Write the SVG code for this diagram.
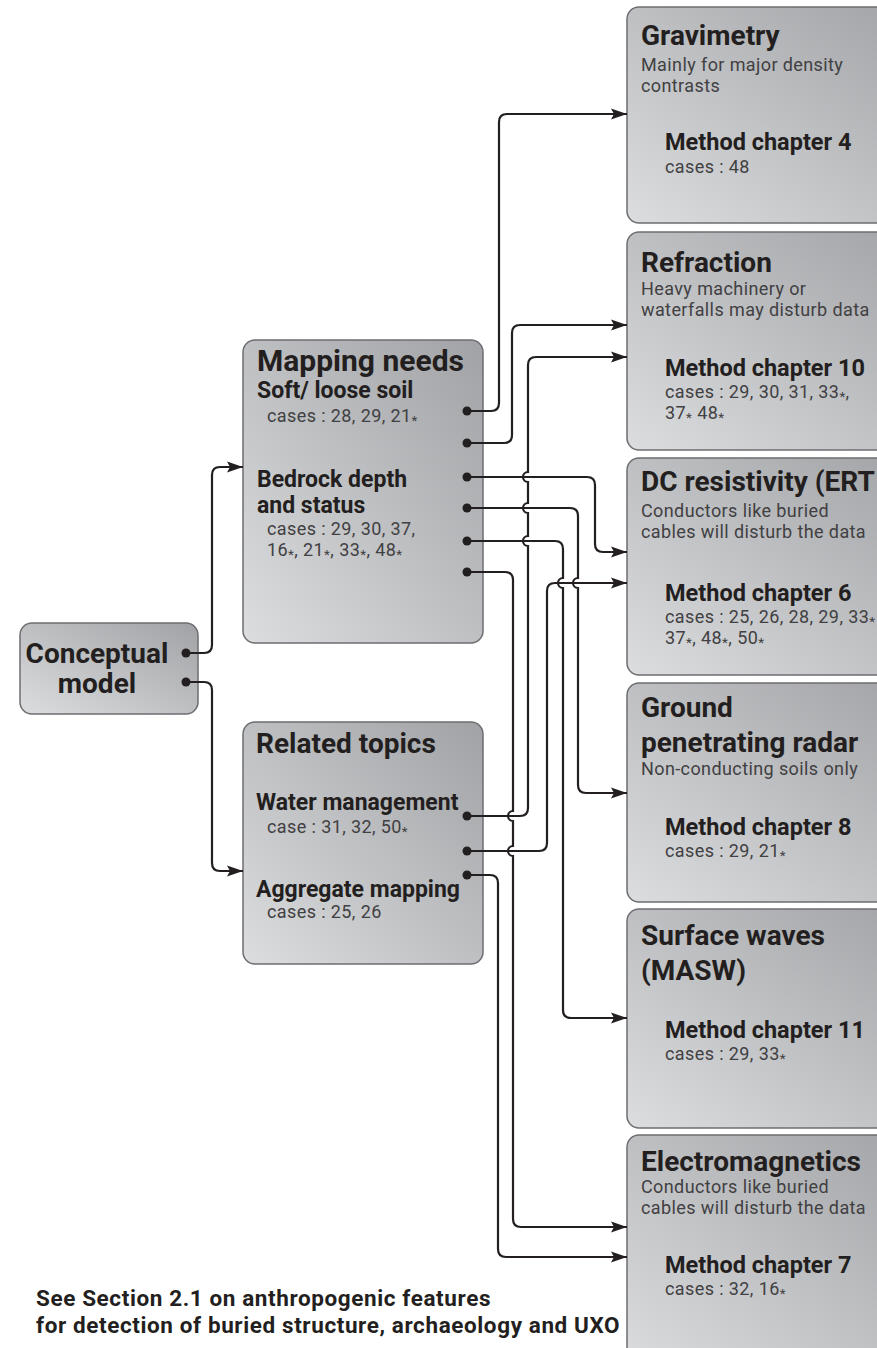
<svg xmlns="http://www.w3.org/2000/svg" width="877" height="1348" viewBox="0 0 877 1348">
<style>
.box{stroke:#6d6e71;stroke-width:1.5;fill:url(#g)}
.t{font-family:Roboto,"Liberation Sans",sans-serif;font-weight:bold;fill:#231f20}
.h1{font-size:28px}
.h2{font-size:23px}
.mc{font-size:23.5px}
.r{font-family:Roboto,"Liberation Sans",sans-serif;fill:#414042;font-size:18px;letter-spacing:0.4px}
.s{font-size:13.5px;baseline-shift:-3px}
.nt{font-size:22.5px;letter-spacing:0.6px}
.c{fill:none;stroke:#231f20;stroke-width:2.2}
.a{marker-end:url(#arr)}
.dot{fill:#231f20}
</style>
<defs>
<linearGradient id="g" x1="0" y1="1" x2="1" y2="0">
<stop offset="0" stop-color="#dcdddf"/>
<stop offset="1" stop-color="#a0a2a5"/>
</linearGradient>
<marker id="arr" markerUnits="userSpaceOnUse" markerWidth="18" markerHeight="12" refX="16" refY="6" orient="auto">
<path d="M0,0.5 L16,6 L0,11.5 L3,6 z" fill="#231f20"/>
</marker>
</defs>
<rect width="877" height="1348" fill="#ffffff"/>

<g id="conceptual">
<rect class="box" x="20" y="623" width="178" height="91" rx="12"/>
<text class="t h1" x="97" y="663" text-anchor="middle">Conceptual</text>
<text class="t h1" x="97" y="693" text-anchor="middle">model</text>
</g>

<g id="mapping">
<rect class="box" x="243" y="340" width="240" height="303" rx="12"/>
<text class="t" style="font-size:30px" x="257" y="371">Mapping needs</text>
<text class="t h2" x="257" y="398">Soft/ loose soil</text>
<text class="r" x="267" y="422">cases : 28, 29, 21<tspan class="s">*</tspan></text>
<text class="t h2" x="257" y="487">Bedrock depth</text>
<text class="t h2" x="257" y="513">and status</text>
<text class="r" x="267" y="535">cases : 29, 30, 37,</text>
<text class="r" x="267" y="556">16<tspan class="s">*</tspan>, 21<tspan class="s">*</tspan>, 33<tspan class="s">*</tspan>, 48<tspan class="s">*</tspan></text>
</g>

<g id="related">
<rect class="box" x="243" y="722" width="240" height="242" rx="12"/>
<text class="t h1" x="256" y="753">Related topics</text>
<text class="t h2" x="256" y="810">Water management</text>
<text class="r" x="267" y="833">case : 31, 32, 50<tspan class="s">*</tspan></text>
<text class="t h2" x="256" y="897">Aggregate mapping</text>
<text class="r" x="267" y="918">cases : 25, 26</text>
</g>

<g id="gravimetry">
<rect class="box" x="627" y="7" width="300" height="216" rx="12"/>
<text class="t h1" x="641" y="45">Gravimetry</text>
<text class="r" x="641" y="71">Mainly for major density</text>
<text class="r" x="641" y="92">contrasts</text>
<text class="t mc" x="665" y="150">Method chapter 4</text>
<text class="r" x="665" y="173">cases : 48</text>
</g>

<g id="refraction">
<rect class="box" x="627" y="232" width="300" height="218" rx="12"/>
<text class="t h1" x="641" y="272">Refraction</text>
<text class="r" x="641" y="295">Heavy machinery or</text>
<text class="r" x="641" y="316">waterfalls may disturb data</text>
<text class="t mc" x="665" y="376">Method chapter 10</text>
<text class="r" x="665" y="398">cases : 29, 30, 31, 33<tspan class="s">*</tspan>,</text>
<text class="r" x="665" y="419">37<tspan class="s">*</tspan> 48<tspan class="s">*</tspan></text>
</g>

<g id="dcres">
<rect class="box" x="627" y="458" width="300" height="217" rx="12"/>
<text class="t h1" x="641" y="491">DC resistivity (ERT</text>
<text class="r" x="641" y="517">Conductors like buried</text>
<text class="r" x="641" y="538">cables will disturb the data</text>
<text class="t mc" x="665" y="601">Method chapter 6</text>
<text class="r" x="665" y="623">cases : 25, 26, 28, 29, 33<tspan class="s">*</tspan></text>
<text class="r" x="665" y="644">37<tspan class="s">*</tspan>, 48<tspan class="s">*</tspan>, 50<tspan class="s">*</tspan></text>
</g>

<g id="gpr">
<rect class="box" x="627" y="683" width="300" height="219" rx="12"/>
<text class="t h1" x="641" y="717">Ground</text>
<text class="t h1" x="641" y="752">penetrating radar</text>
<text class="r" x="641" y="775">Non-conducting soils only</text>
<text class="t mc" x="665" y="835">Method chapter 8</text>
<text class="r" x="665" y="857">cases : 29, 21<tspan class="s">*</tspan></text>
</g>

<g id="masw">
<rect class="box" x="627" y="909" width="300" height="219" rx="12"/>
<text class="t h1" x="641" y="945">Surface waves</text>
<text class="t h1" x="641" y="980">(MASW)</text>
<text class="t mc" x="665" y="1038">Method chapter 11</text>
<text class="r" x="665" y="1060">cases : 29, 33<tspan class="s">*</tspan></text>
</g>

<g id="em">
<rect class="box" x="627" y="1135" width="300" height="240" rx="12"/>
<text class="t h1" x="641" y="1171">Electromagnetics</text>
<text class="r" x="641" y="1193">Conductors like buried</text>
<text class="r" x="641" y="1214">cables will disturb the data</text>
<text class="t mc" x="665" y="1273">Method chapter 7</text>
<text class="r" x="665" y="1295">cases : 32, 16<tspan class="s">*</tspan></text>
</g>

<g id="note">
<text class="t nt" x="36" y="1306">See Section 2.1 on anthropogenic features</text>
<text class="t nt" x="36" y="1333">for detection of buried structure, archaeology and UXO</text>
</g>

<g id="connectors">
<path class="c a" d="M189 653 H204 Q212 653 212 645 V475 Q212 467 220 467 H243"/>
<path class="c a" d="M189 682 H204 Q212 682 212 690 V863 Q212 871 220 871 H243"/>
<path class="c a" d="M467 411 H491 Q499 411 499 403 V122 Q499 114 507 114 H627"/>
<path class="c a" d="M467 443 H504 Q512 443 512 435 V333 Q512 325 520 325 H627"/>
<path class="c a" d="M467 477 H587 Q595 477 595 485 V544 Q595 552 603 552 H627"/>
<path class="c a" d="M467 508 H570 Q578 508 578 516 V578 A5 5 0 0 0 578 588 V785 Q578 793 586 793 H627"/>
<path class="c a" d="M467 541 H555 Q563 541 563 549 V578 A5 5 0 0 0 563 588 V1010 Q563 1018 571 1018 H627"/>
<path class="c a" d="M467 572 H505 Q513 572 513 580 V811 A5 5 0 0 0 513 821 V846 A5 5 0 0 0 513 856 V1219 Q513 1227 521 1227 H627"/>
<path class="c a" d="M467 816 H520 Q528 816 528 808 V546 A5 5 0 0 1 528 536 V513 A5 5 0 0 1 528 503 V482 A5 5 0 0 1 528 472 V365 Q528 357 536 357 H627"/>
<path class="c a" d="M467 851 H539 Q547 851 547 843 V591 Q547 583 555 583 H627"/>
<path class="c a" d="M467 875 H490 Q498 875 498 883 V1249 Q498 1257 506 1257 H627"/>
<circle class="dot" cx="186" cy="653" r="4.5"/>
<circle class="dot" cx="186" cy="682" r="4.5"/>
<circle class="dot" cx="467" cy="411" r="4.5"/>
<circle class="dot" cx="467" cy="443" r="4.5"/>
<circle class="dot" cx="467" cy="477" r="4.5"/>
<circle class="dot" cx="467" cy="508" r="4.5"/>
<circle class="dot" cx="467" cy="541" r="4.5"/>
<circle class="dot" cx="467" cy="572" r="4.5"/>
<circle class="dot" cx="467" cy="816" r="4.5"/>
<circle class="dot" cx="467" cy="851" r="4.5"/>
<circle class="dot" cx="467" cy="875" r="4.5"/>
</g>
</svg>
